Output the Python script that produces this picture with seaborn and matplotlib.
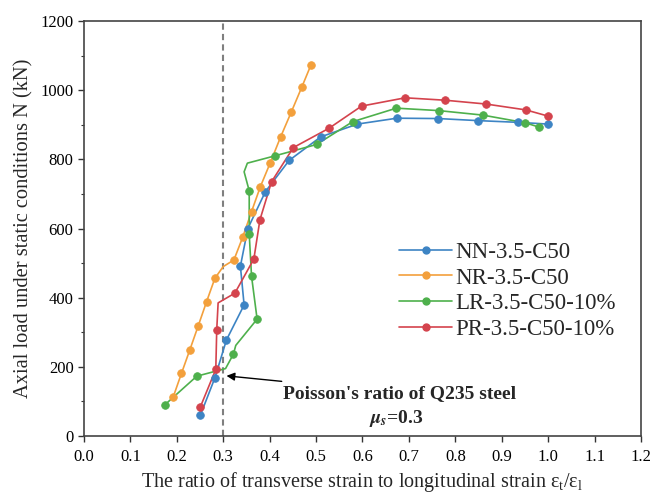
import numpy as np
import pandas as pd
import seaborn as sns
from matplotlib import pyplot as plt
from matplotlib.lines import Line2D
from matplotlib import rcParams

sns.set_style('ticks')
rcParams['font.family'] = ['Liberation Serif', 'DejaVu Serif']
rcParams['mathtext.fontset'] = 'stix'
rcParams['mathtext.default'] = 'regular'
rcParams['xtick.direction'] = 'out'
rcParams['ytick.direction'] = 'out'

#%% data (flag 1 = data point with marker, 0 = bend of the smoothed curve)
nn_x = [0.251, 0.282, 0.307, 0.345, 0.337, 0.353, 0.391, 0.442, 0.510, 0.589, 0.674, 0.763, 0.849, 0.936, 1.000]
nn_y = [61, 168, 278, 379, 491, 600, 707, 797, 865, 902, 919, 918, 912, 907, 902]
nn_m = [1]*15

nr_x = [0.192, 0.210, 0.228, 0.246, 0.264, 0.282, 0.300, 0.323, 0.342, 0.361, 0.380, 0.401, 0.424, 0.447, 0.469, 0.489]
nr_y = [112, 181, 249, 318, 388, 456, 490, 509, 575, 649, 721, 789, 866, 938, 1008, 1073]
nr_m = [1, 1, 1, 1, 1, 1, 0, 1, 1, 1, 1, 1, 1, 1, 1, 1]

lr_x = [0.174, 0.243, 0.305, 0.322, 0.327, 0.373, 0.361, 0.356, 0.356, 0.345, 0.352, 0.411, 0.501, 0.579, 0.673, 0.764, 0.859, 0.950, 0.981]
lr_y = [90, 173, 195, 237, 262, 338, 462, 584, 709, 764, 789, 810, 843, 909, 948, 941, 928, 906, 893]
lr_m = [1, 1, 0, 1, 0, 1, 1, 1, 1, 0, 0, 1, 1, 1, 1, 1, 1, 1, 1]

pr_x = [0.251, 0.284, 0.286, 0.289, 0.325, 0.366, 0.379, 0.404, 0.451, 0.528, 0.598, 0.692, 0.778, 0.866, 0.952, 1.000]
pr_y = [85, 193, 307, 385, 413, 512, 625, 735, 834, 890, 954, 978, 971, 960, 943, 925]
pr_m = [1, 1, 1, 0, 1, 1, 1, 1, 1, 1, 1, 1, 1, 1, 1, 1]

labels = ['NN-3.5-C50', 'NR-3.5-C50', 'LR-3.5-C50-10%', 'PR-3.5-C50-10%']
colors = ['#3d84c4', '#f3a03c', '#4eb04c', '#d4434d']
series = [(nn_x, nn_y, nn_m), (nr_x, nr_y, nr_m), (lr_x, lr_y, lr_m), (pr_x, pr_y, pr_m)]

#%%
fig = plt.figure(figsize=(6.53, 4.97), dpi=100)
ax = fig.add_axes([0.1286, 0.1227, 0.853, 0.835])

ax.axvline(0.3, color='#7f7f7f', linestyle=(0, (3, 2)), linewidth=1.5, zorder=1)

handles = []
for (sx, sy, sm), lab, c in zip(series, labels, colors):
    df = pd.DataFrame({'x': sx, 'y': sy, 'm': sm})
    sns.lineplot(data=df, x='x', y='y', sort=False, estimator=None, color=c, linewidth=1.2, ax=ax, zorder=2)
    sns.scatterplot(data=df[df['m'] == 1], x='x', y='y', color=c, s=30, edgecolor=c, linewidth=0.6, ax=ax, zorder=3)
    handles.append(Line2D([], [], color=c, linewidth=1.2, marker='o', markersize=5, label=lab))

ax.annotate("Poisson's ratio of Q235 steel", xy=(0.307, 174), xytext=(0.429, 124),
            fontsize=14, fontweight='bold', va='center', ha='left',
            arrowprops=dict(arrowstyle='-|>', color='k', linewidth=1.0, mutation_scale=12, shrinkA=0, shrinkB=0))
ax.text(0.672, 52, r'$\mathbfit{\mu}_\mathbfit{s}$=0.3', fontsize=14, fontweight='bold', ha='center', va='center')

ax.legend(handles=handles, loc='upper left', bbox_to_anchor=(0.55, 0.49), frameon=False,
          fontsize=16.5, handlelength=2.3, handletextpad=0.15, labelspacing=0.2, borderaxespad=0)

ax.set_xlim(0, 1.2)
ax.set_ylim(0, 1200)
ax.set_xticks(np.arange(0, 1.21, 0.1))
ax.set_xticklabels([f'{v:.1f}' for v in np.arange(0, 1.21, 0.1)])
ax.set_yticks(np.arange(0, 1201, 200))
ax.set_yticks(np.arange(0, 1201, 100), minor=True)
ax.tick_params(labelsize=12, length=4, width=1.0, colors='#333333', labelcolor='k')
ax.tick_params(axis='x', pad=5)
ax.tick_params(which='minor', length=2.5, width=0.8, colors='#333333')
for s in ax.spines.values():
    s.set_linewidth(1.2)
    s.set_color('#444444')

ax.set_xlabel('The ratio of transverse strain to longitudinal strain ε$_{t}$/ε$_{l}$', fontsize=14.5, labelpad=4)
ax.set_ylabel('Axial load under static conditions N (kN)', fontsize=14.8, labelpad=5)

fig.savefig('out.png', dpi=100)
